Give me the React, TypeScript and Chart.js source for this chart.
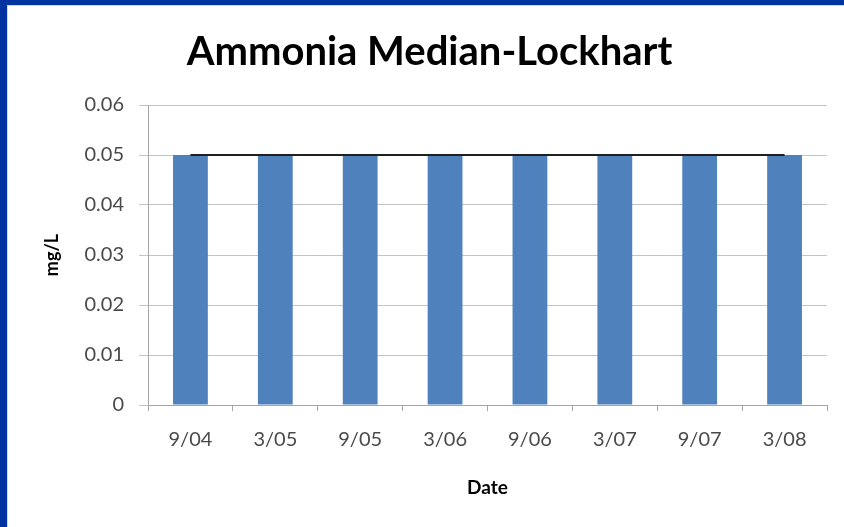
import React, { useEffect, useRef } from "react";
import { Chart, registerables } from "chart.js";

Chart.register(...registerables);

const categories = ["9/04", "3/05", "9/05", "3/06", "9/06", "3/07", "9/07", "3/08"];
const medianValues = [0.05, 0.05, 0.05, 0.05, 0.05, 0.05, 0.05, 0.05];
const lineValues = [0.05, 0.05, 0.05, 0.05, 0.05, 0.05, 0.05, 0.05];
const yTicks = [0, 0.01, 0.02, 0.03, 0.04, 0.05, 0.06];

const FONT = "Lato, 'Open Sans', sans-serif";

export default function App() {
  const ref = useRef<HTMLCanvasElement | null>(null);

  useEffect(() => {
    document.body.style.margin = "0";
    const ctx = ref.current;
    if (!ctx) return;
    const chart = new Chart(ctx, {
      type: "bar",
      data: {
        labels: categories,
        datasets: [
          {
            type: "line",
            label: "Line",
            data: lineValues,
            borderColor: "#1f1f1f",
            borderWidth: 2,
            pointRadius: 0,
            fill: false,
            order: 0,
          },
          {
            type: "bar",
            label: "Median",
            data: medianValues,
            backgroundColor: "#4f81bd",
            barPercentage: 0.41,
            categoryPercentage: 1,
            order: 1,
          },
        ],
      },
      options: {
        animation: false,
        responsive: false,
        maintainAspectRatio: false,
        layout: { padding: { left: 24, right: 17, top: 0, bottom: 0 } },
        plugins: {
          legend: { display: false },
          tooltip: { enabled: false },
          title: {
            display: true,
            text: "Ammonia Median-Lockhart",
            color: "#000000",
            font: { family: FONT, size: 40, weight: "bold" },
            padding: { top: 22, bottom: 29 },
          },
        },
        scales: {
          x: {
            offset: true,
            afterFit: (s: any) => {
              s.height = 122;
            },
            grid: {
              display: true,
              offset: true,
              drawOnChartArea: false,
              drawTicks: true,
              tickLength: 6,
              color: "#a6a6a6",
            },
            border: { display: true, color: "#a6a6a6" },
            ticks: {
              color: "#4a4a4a",
              font: { family: FONT, size: 20 },
              padding: 17,
            },
            title: {
              display: true,
              text: "Date",
              color: "#000000",
              font: { family: FONT, size: 19, weight: "bold" },
              padding: { top: 0, bottom: 28 },
            },
          },
          y: {
            min: 0,
            max: 0.06,
            afterFit: (s: any) => {
              s.width = 116;
            },
            afterBuildTicks: (axis: any) => {
              axis.ticks = yTicks.map((v) => ({ value: v }));
            },
            grid: {
              color: "#c4c4c4",
              tickLength: 9,
              lineWidth: 1,
            },
            border: { display: true, color: "#a6a6a6" },
            ticks: {
              color: "#4a4a4a",
              font: { family: FONT, size: 20 },
              padding: 15,
              callback: (v: any) => (Number(v) === 0 ? "0" : Number(v).toFixed(2)),
            },
            title: {
              display: true,
              text: "mg/L",
              color: "#000000",
              font: { family: FONT, size: 18, weight: "bold" },
              padding: { top: 9, bottom: 0 },
            },
          },
        },
      },
    });
    return () => chart.destroy();
  }, []);

  return (
    <div
      style={{
        position: "absolute",
        left: 0,
        top: 0,
        width: 844,
        height: 527,
        boxSizing: "border-box",
        borderLeft: "7px solid #0033a0",
        borderTop: "5px solid #0033a0",
        background: "#ffffff",
      }}
    >
      <div
        style={{
          position: "absolute",
          left: 0,
          top: 0,
          width: 837,
          height: 522,
          boxSizing: "border-box",
          borderLeft: "1px solid #d9d9d9",
          borderTop: "1px solid #d9d9d9",
        }}
      >
        <canvas ref={ref} width={836} height={521} style={{ display: "block" }} />
      </div>
    </div>
  );
}
